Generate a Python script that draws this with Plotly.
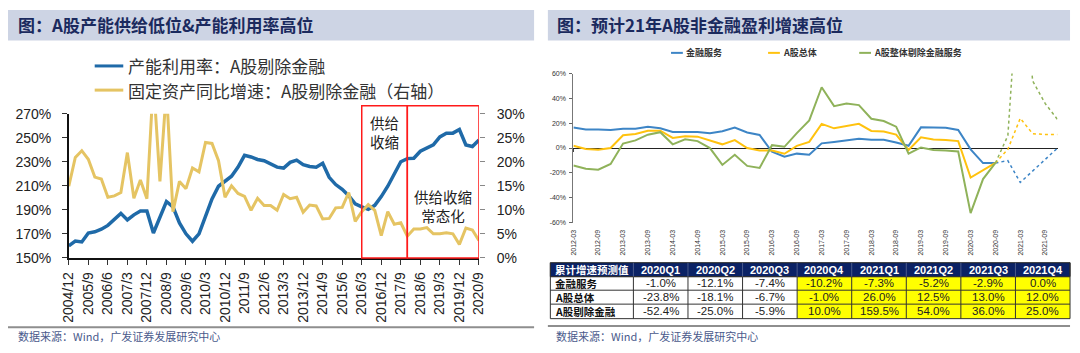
import plotly.graph_objects as go

# ---------------- data: left chart ----------------
left_labels = ["2004/12", "2005/9", "2006/6", "2007/3", "2007/12", "2008/9", "2009/6", "2010/3",
               "2010/12", "2011/9", "2012/6", "2013/3", "2013/12", "2014/9", "2015/6", "2016/3",
               "2016/12", "2017/9", "2018/6", "2019/3", "2019/12", "2020/9"]
left_quarters = []
for yr in range(2004, 2021):
    for m in (3, 6, 9, 12):
        if (yr == 2004 and m < 12) or (yr == 2020 and m > 9):
            continue
        left_quarters.append(f"{yr}/{m}")

cap_util = [160, 164, 163.2, 170.7, 171.7, 173.8, 177, 181.8, 187, 181.5, 185.8, 189, 189, 170.7,
            183, 196.9, 192.4, 179, 170, 163.8, 170, 184.4, 199, 209.6, 213.6, 218, 225.5, 235.3,
            234, 231.9, 230.8, 228.2, 225.5, 224.7, 229.5, 231.3, 227.6, 226, 225.5, 228.7, 217,
            211, 207, 201.7, 195, 192.4, 190.3, 193.7, 201, 209.6, 220.2, 230, 232.6, 232.9, 238.7,
            241.4, 244, 250.7, 253.8, 253.8, 256.8, 244, 242.7, 248]
fixed_asset = [14.9, 20.9, 22.3, 20.5, 16.8, 16.4, 12.6, 12.9, 13.6, 21.9, 12.4, 16.2, 12.3, 37,
               15.9, 35, 9.6, 15.9, 14.4, 18.7, 17.9, 24, 23.8, 20.2, 12.6, 15, 13.4, 12.8, 9.9,
               12.4, 10.9, 10.9, 9.9, 13.2, 12.3, 12.6, 9.5, 11, 10.8, 8.1, 8.2, 10.4, 10.5, 13.6,
               7.6, 9.6, 11.1, 9.9, 4.6, 9.6, 7, 7.3, 4.5, 6, 6, 6.3, 5, 5, 5.2, 5, 2.8, 6.2, 5.8, 3.6]
left_y_ticks = [150, 170, 190, 210, 230, 250, 270]
right_y_ticks = [0, 5, 10, 15, 20, 25, 30]

# ---------------- data: right chart ----------------
right_quarters = []
for yr in range(2012, 2022):
    for m in ("03", "06", "09", "12"):
        right_quarters.append(f"{yr}-{m}")
right_labels = right_quarters[::2]

fin_solid = [16.5, 15, 15, 14.5, 15.5, 15.5, 17.2, 16, 13, 13, 13, 12, 13.5, 16.5, 12.5, 10.5, -3,
             -7, -4.5, -5.4, 3.8, 4.9, 6.2, 7.4, 6.7, 6.7, 4.4, 1.8, 16.7, 16.4, 16.4, 14.6, -1.0,
             -12.1, -12]
all_solid = [1.8, -0.8, -1.3, 0, 10.3, 11.3, 14, 14, 8.2, 9.5, 9.2, 6.4, 3, 6.4, 0, -2, -2, -4.6,
             1.8, 5, 19.5, 15.9, 18, 19.5, 13.8, 13.3, 10.8, -1.5, 8.7, 6.9, 6.4, 5.6, -23.8,
             -18.1, -12]
exfin_solid = [-14, -16.7, -17.4, -12.8, 3.6, 6.2, 10.8, 12.8, 3, 7, 5.6, 0, -13.6, -5.4, -14.4,
               -16, 2.3, 1, 12, 22.3, 49, 33.8, 35.9, 34.6, 23.6, 21.8, 17.2, -4.6, 0.5, -1.5,
               -2, -2.8, -52.4, -25, -12]
fin_fc = [-12, -10.2, -27.7, -18.5, -9.2, 0.0]
all_fc = [-12, -1.0, 24, 11.5, 11, 11]
exfin_fc = [-12, 10.0, 159.5, 54, 36, 23]
r_y_ticks = [-60, -40, -20, 0, 20, 40, 60]

# table
tbl_header = ["累计增速预测值", "2020Q1", "2020Q2", "2020Q3", "2020Q4", "2021Q1", "2021Q2", "2021Q3", "2021Q4"]
tbl_rows = ["金融服务", "A股总体", "A股剔除金融"]
tbl_fin = ["-1.0%", "-12.1%", "-7.4%", "-10.2%", "-7.3%", "-5.2%", "-2.9%", "0.0%"]
tbl_all = ["-23.8%", "-18.1%", "-6.7%", "-1.0%", "26.0%", "12.5%", "13.0%", "12.0%"]
tbl_exfin = ["-52.4%", "-25.0%", "-5.9%", "10.0%", "159.5%", "54.0%", "36.0%", "25.0%"]
tbl_forecast_from = 3  # first forecast column (2020Q4), highlighted

W, H = 1080, 353
def px(x): return x / W
def py(y): return 1 - y / H

BLUE_L = "#1F6AA8"
GOLD_L = "#E5C463"
BLUE_R = "#3D85C6"
YEL_R = "#FFC20E"
GRN_R = "#8FB25A"
CJK = "Noto Sans CJK SC"
LAT = "Liberation Sans"

fig = go.Figure()

# left chart traces
fig.add_trace(go.Scatter(x=left_quarters, y=cap_util, mode="lines", name="产能利用率：A股剔除金融",
                         line=dict(color=BLUE_L, width=3.5), xaxis="x", yaxis="y"))
fig.add_trace(go.Scatter(x=left_quarters, y=fixed_asset, mode="lines",
                         name="固定资产同比增速：A股剔除金融（右轴）",
                         line=dict(color=GOLD_L, width=3), xaxis="x", yaxis="y2"))

# right chart traces
fc_x = right_quarters[34:]
for name, solid, fc, col in [("金融服务", fin_solid, fin_fc, BLUE_R),
                             ("A股总体", all_solid, all_fc, YEL_R),
                             ("A股整体剔除金融服务", exfin_solid, exfin_fc, GRN_R)]:
    fig.add_trace(go.Scatter(x=right_quarters[:35], y=solid, mode="lines", name=name,
                             line=dict(color=col, width=2), xaxis="x3", yaxis="y3"))
    fig.add_trace(go.Scatter(x=fc_x, y=fc, mode="lines", name=name + "（预测）",
                             line=dict(color=col, width=1.5, dash="dot"), xaxis="x3", yaxis="y3"))
fig.add_trace(go.Scatter(x=[right_quarters[0]], y=[0], mode="markers", marker=dict(opacity=0),
                         hoverinfo="skip", xaxis="x4", yaxis="y3"))

axis_font = dict(family=LAT, size=14, color="#222222")
fig.update_layout(
    width=W, height=H, margin=dict(l=0, r=0, t=0, b=0),
    paper_bgcolor="white", plot_bgcolor="white", showlegend=False,
    xaxis=dict(domain=[px(61.7), px(478)], type="category", range=[0, 63],
               tickmode="array", tickvals=left_labels, ticktext=left_labels, tickangle=-90,
               ticks="outside", ticklen=5, tickcolor="#333", showline=True, linecolor="#111",
               linewidth=1.5, showgrid=False, tickfont=axis_font, anchor="y",
               ticklabelstandoff=2),
    yaxis=dict(domain=[py(261.7), py(110.7)], range=[150, 270], tickvals=left_y_ticks,
               ticktext=[f"{v}%" for v in left_y_ticks], ticks="outside", ticklen=5,
               tickcolor="#333", showline=True, linecolor="#111", linewidth=1.5,
               showgrid=False, zeroline=False, tickfont=axis_font, anchor="x",
               ticklabelstandoff=8),
    yaxis2=dict(overlaying="y", side="right", range=[0, 30], tickvals=right_y_ticks,
                ticktext=[f"{v}%" for v in right_y_ticks], ticks="outside", ticklen=5,
                tickcolor="#888", showline=False, showgrid=False, zeroline=False,
                tickfont=axis_font, anchor="x", ticklabelstandoff=9),
    xaxis3=dict(domain=[px(573.9), px(1065.3)], type="category", range=[0, 39],
                tickmode="array", tickvals=right_labels, ticktext=right_labels, tickangle=-90,
                ticks="", showline=False, showgrid=False, anchor="y3",
                tickfont=dict(family=LAT, size=7, color="#333"), ticklabelstandoff=5),
    xaxis4=dict(overlaying="x3", type="category", range=[0, 39], anchor="free",
                position=py(146.7), tickmode="array", tickvals=right_labels,
                showticklabels=False, ticks="outside", ticklen=3, tickcolor="#444",
                showline=False, showgrid=False),
    yaxis3=dict(domain=[py(224.7), py(68.7)], range=[-60, 60], tickvals=r_y_ticks,
                ticktext=[f"{v}%" for v in r_y_ticks], ticks="outside", ticklen=3,
                tickcolor="#666", showline=True, linecolor="#777", linewidth=1,
                showgrid=False, zeroline=True, zerolinecolor="#222", zerolinewidth=1,
                tickfont=dict(family=LAT, size=7, color="#333"), anchor="x3",
                ticklabelstandoff=2),
)

shapes = []
ann = []
# title bars
for x0, x1 in [(0, 534), (548, 1078)]:
    shapes.append(dict(type="rect", xref="paper", yref="paper", x0=px(x0), x1=px(x1),
                       y0=py(34), y1=py(2), fillcolor="#CDD4E4", line=dict(width=0), layer="below"))
ann.append(dict(text="<b>图：A股产能供给低位&产能利用率高位</b>", x=px(8), y=py(17.5),
                xanchor="left", yanchor="middle", font=dict(family=CJK, size=17, color="#1B2A5E")))
ann.append(dict(text="<b>图：预计21年A股非金融盈利增速高位</b>", x=px(555), y=py(17.5),
                xanchor="left", yanchor="middle", font=dict(family=CJK, size=17, color="#1B2A5E")))

# left legend
for yy, col, txt in [(60.7, BLUE_L, "产能利用率：A股剔除金融"),
                     (86, GOLD_L, "固定资产同比增速：A股剔除金融（右轴）")]:
    shapes.append(dict(type="line", xref="paper", yref="paper", x0=px(88), x1=px(117),
                       y0=py(yy), y1=py(yy), line=dict(color=col, width=3)))
    ann.append(dict(text=txt, x=px(120), y=py(yy), xanchor="left", yanchor="middle",
                    font=dict(family=CJK, size=17, color="#333333")))

# red boxes
for x0, x1 in [(45, 52), (52, 63)]:
    shapes.append(dict(type="rect", xref="x", yref="paper", x0=x0, x1=x1, y0=py(262), y1=py(102.5),
                       line=dict(color="#FF1A1A", width=1.5)))
for txt, xx, yy in [("供给<br>收缩", 48.5, 130), ("供给收缩<br>常态化", 57.5, 207.5)]:
    ann.append(dict(text=txt, x=xx, xref="x", y=py(yy), yref="paper", xanchor="center",
                    yanchor="middle", align="center",
                    font=dict(family=CJK, size=14.5, color="#222222")))

# right legend
for x0, col, txt in [(673, BLUE_R, "金融服务"), (771.5, YEL_R, "A股总体"), (864, GRN_R, "A股整体剔除金融服务")]:
    shapes.append(dict(type="line", xref="paper", yref="paper", x0=px(x0), x1=px(x0 + 12),
                       y0=py(47), y1=py(47), line=dict(color=col, width=2)))
    ann.append(dict(text=f"<b>{txt}</b>", x=px(x0 + 13), y=py(47), xanchor="left", yanchor="middle",
                    font=dict(family=CJK, size=9, color="#333333")))

# ---- table drawn from the table lists ----
col_x = [550.5, 634.8]
for _ in range(8):
    col_x.append(col_x[-1] + 55.4)
row_y = [266.8, 281.4, 295.6, 310.2, 325.4]
body = [tbl_fin, tbl_all, tbl_exfin]
shapes.append(dict(type="rect", xref="paper", yref="paper", x0=px(col_x[0]), x1=px(col_x[-1]),
                   y0=py(row_y[1]), y1=py(row_y[0]), fillcolor="#0B2265",
                   line=dict(color="#222", width=1)))
shapes.append(dict(type="rect", xref="paper", yref="paper", x0=px(col_x[1 + tbl_forecast_from]),
                   x1=px(col_x[-1]), y0=py(row_y[-1]), y1=py(row_y[1]), fillcolor="#FFFF00",
                   line=dict(width=0), layer="below"))
for yy in row_y[1:]:
    shapes.append(dict(type="line", xref="paper", yref="paper", x0=px(col_x[0]), x1=px(col_x[-1]),
                       y0=py(yy), y1=py(yy), line=dict(color="#333", width=1)))
for i, xx in enumerate(col_x):
    shapes.append(dict(type="line", xref="paper", yref="paper", x0=px(xx), x1=px(xx),
                       y0=py(row_y[-1]), y1=py(row_y[1]), line=dict(color="#333", width=1)))
    top_col = "#333" if i in (0, len(col_x) - 1) else "#4a5a8a"
    shapes.append(dict(type="line", xref="paper", yref="paper", x0=px(xx), x1=px(xx),
                       y0=py(row_y[1]), y1=py(row_y[0]), line=dict(color=top_col, width=1)))
for j, h in enumerate(tbl_header):
    yc = (row_y[0] + row_y[1]) / 2
    if j == 0:
        ann.append(dict(text=f"<b>{h}</b>", x=px(col_x[0] + 3), y=py(yc), xanchor="left",
                        yanchor="middle", font=dict(family=CJK, size=10.5, color="white")))
    else:
        ann.append(dict(text=f"<b>{h}</b>", x=px((col_x[j] + col_x[j + 1]) / 2), y=py(yc),
                        xanchor="center", yanchor="middle", font=dict(family=LAT, size=11, color="white")))
for r, (rname, vals) in enumerate(zip(tbl_rows, body)):
    yc = (row_y[r + 1] + row_y[r + 2]) / 2
    ann.append(dict(text=f"<b>{rname}</b>", x=px(col_x[0] + 3), y=py(yc), xanchor="left",
                    yanchor="middle", font=dict(family=CJK, size=10.5, color="#111")))
    for j, v in enumerate(vals):
        ann.append(dict(text=v, x=px((col_x[j + 1] + col_x[j + 2]) / 2), y=py(yc),
                        xanchor="center", yanchor="middle", font=dict(family=LAT, size=11.5, color="#222")))

# separators and sources
for x0, x1, yy in [(0, 534, 334.5), (548, 1078, 333)]:
    shapes.append(dict(type="line", xref="paper", yref="paper", x0=px(x0), x1=px(x1),
                       y0=py(yy), y1=py(yy), line=dict(color="#8E8E8E", width=2)))
for xx in (8, 554):
    ann.append(dict(text="数据来源：Wind，广发证券发展研究中心", x=px(xx), y=py(343.5),
                    xanchor="left", yanchor="middle", font=dict(family=CJK, size=11, color="#4A5A8C")))

for a in ann:
    a.setdefault("xref", "paper")
    a.setdefault("yref", "paper")
    a["showarrow"] = False
fig.update_layout(shapes=shapes, annotations=ann)

fig.write_html("out.html")
